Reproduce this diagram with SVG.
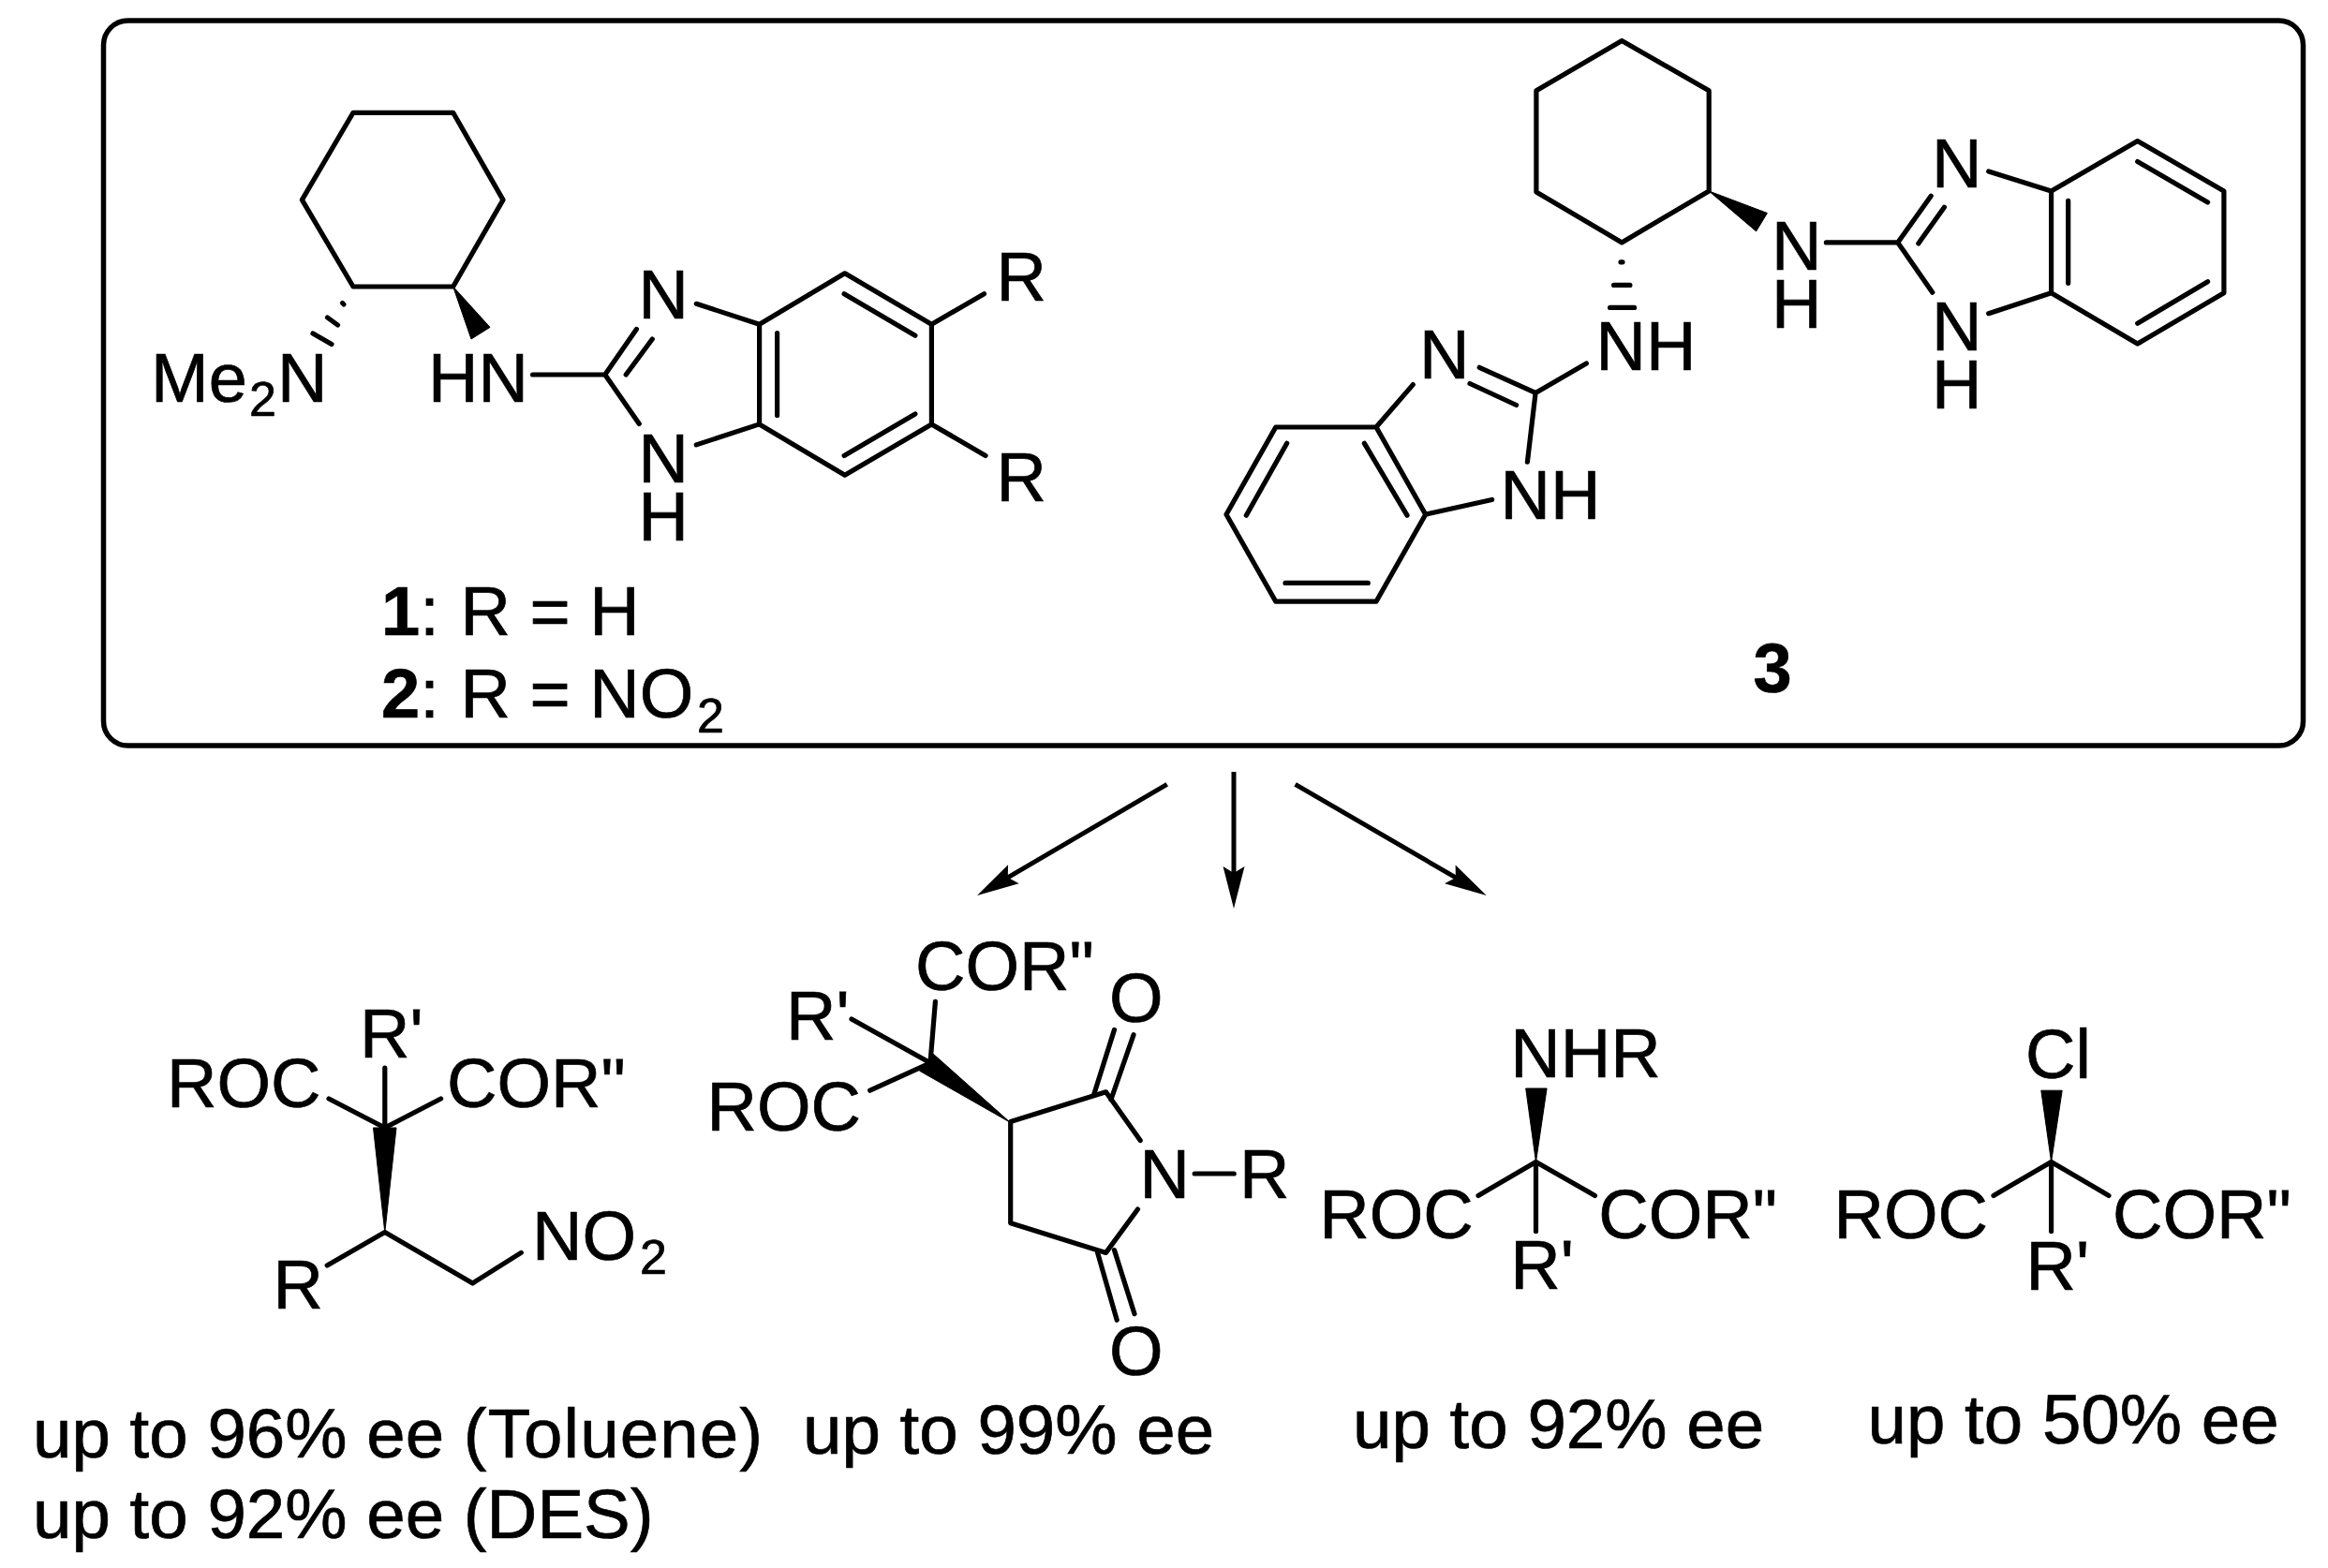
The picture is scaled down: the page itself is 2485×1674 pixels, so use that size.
<svg xmlns="http://www.w3.org/2000/svg" width="2485" height="1674" viewBox="0 0 2485 1674">
<style>
text{font-family:"Liberation Sans",Arial,sans-serif;font-size:74px;fill:#000;stroke:#000;stroke-width:.7}
.s{font-size:52px}
.b{font-weight:bold}
.e{font-size:74.5px}
path.l{fill:none;stroke:#000;stroke-width:5.2;stroke-linecap:round;stroke-linejoin:round}
.w{fill:#000;stroke:#000;stroke-width:1;stroke-linejoin:round}
.a{fill:none;stroke:#000;stroke-width:5;marker-end:url(#arrow)}
</style>
<defs>
<marker id="arrow" markerUnits="userSpaceOnUse" viewBox="-20 -15 55 30" refX="0" refY="0" markerWidth="55" markerHeight="30" orient="auto">
<path d="M30,0L-15,-11.5L-8,0L-15,11.5Z" fill="#000"/>
</marker>
</defs>
<rect width="2485" height="1674" fill="#fff"/>
<g id="frame"><rect x="110.5" y="22" width="2348" height="774" rx="26" ry="26" fill="none" stroke="#000" stroke-width="5.5"/></g>

<g id="catalyst-1-2">
<path class="l" d="M377,120.3H483.7L537,213.4L483.7,306H377L322.4,213.4Z"/>
<path class="w" d="M483.7,306L523,349.4L503,362Z"/>
<path class="l" d="M365.5,323.5L367,325M349.5,339L360.5,347M334,356L354,367.5"/>
<path class="l" d="M568.6,400H645.8L679.4,351.5M668.2,400L696.3,362M645.8,400L682.3,452.4"/>
<path class="l" d="M743.3,324.3L810.6,346.2L901.8,291.8L994.4,346.2V452.9L901.8,507.3L810.6,452.9V346.2M810.6,452.9L743.3,474.9M829.6,355.6V443.5M901.1,313.8L976.9,358.3M901.1,486.4L976.9,441.9M994.4,346.2L1050.5,313.8M994.4,452.9L1052,486.4"/>
<text x="161" y="429">Me</text><text class="s" x="266" y="444">2</text><text x="296" y="429">N</text>
<text x="457" y="429">HN</text>
<text x="681.500" y="340">N</text><text x="681.500" y="515">N<tspan x="681.500" dy="62">H</tspan></text>
<text x="1063.500" y="320.600">R</text><text x="1063.500" y="534.500">R</text>
<text x="407" y="678"><tspan class="b">1</tspan>:</text><text x="491.500" y="678">R = H</text>
<text x="407" y="766"><tspan class="b">2</tspan>:</text><text x="491.500" y="766">R = NO</text><text class="s" x="744" y="782">2</text>
</g>

<g id="catalyst-3">
<path class="l" d="M1731.2,43.400L1824.200,96.800V204L1731.200,258.900L1639.900,205V96.800Z"/>
<path class="w" d="M1824.200,204L1886.400,227.500L1874.600,246.900Z"/>
<path class="l" d="M1730,279.800H1732M1722.600,304.400H1739.900M1718.600,328.400H1744.600"/>
<path class="l" d="M1949.400,258.900H2025.800L2061.200,209.200M2047.800,259.900L2075.400,221.200M2025.800,258.900L2062.800,312.200"/>
<path class="l" d="M2122.700,183L2189.600,204L2281.700,150.600L2373.900,204V312.800L2281.700,367.100L2189.600,312.800V204M2189.600,312.800L2122.700,334.700M2207.700,214.400V302.300M2281.700,172.600L2356.600,216M2281.700,345.200L2356.600,300.700"/>
<path class="l" d="M1693.400,388L1639.100,419.400L1579.200,392.300M1569,409.500L1618.600,432.500M1639.100,419.400L1630.400,493.200"/>
<path class="l" d="M1508.300,410.600L1469,456H1361.800L1309,549.200L1361.800,642.200H1469L1521.700,549.200L1469,456M1521.700,549.200L1592.600,533.500M1456.400,473.300L1502,550.200M1373.700,473.300L1330.300,550.200M1372,622.400H1460.300"/>
<text x="1703.500" y="395">NH</text>
<text x="1891" y="287.600">N<tspan x="1891" dy="62">H</tspan></text>
<text x="2062" y="200.300">N</text><text x="2062" y="374">N<tspan x="2062" dy="62">H</tspan></text>
<text x="1515" y="404.300">N</text><text x="1601.500" y="554.400">NH</text>
<text class="b" x="1871.500" y="738.500">3</text>
</g>

<g id="connectors">
<path class="a" d="M1245.700,837.400L1068.900,940.800"/>
<path class="a" d="M1317,824V940"/>
<path class="a" d="M1382.600,837.400L1560.800,940.900"/>
</g>

<g id="product-nitro">
<path class="l" d="M351,1173L410.800,1204L470.600,1173M410.800,1140.200V1204"/>
<path class="w" d="M398.500,1204H423L410.800,1315.600Z"/>
<path class="l" d="M349.200,1351L410.800,1315.600L504.500,1370L556.300,1337.400"/>
<text x="384" y="1128.800">R'</text>
<text x="178" y="1182">ROC</text><text x="477" y="1182">COR"</text>
<text x="291.500" y="1397">R</text>
<text x="568" y="1344.500">NO</text><text class="s" x="683" y="1360">2</text>
<text class="e" x="35" y="1556">up to 96% ee <tspan letter-spacing="1.1">(Toluene)</tspan></text>
<text class="e" x="35" y="1642">up to 92% ee (DES)</text>
</g>

<g id="product-succinimide">
<path class="l" d="M909,1088L993,1134.800M998.400,1069.400L993,1134.800M928.700,1164.200L993,1134.800"/>
<path class="w" d="M996,1125L981.700,1143.300L1078.300,1198.300Z"/>
<path class="l" d="M1217.200,1217.600L1180.500,1165.800L1078.700,1197.400V1305.800L1180.500,1337.400L1214.500,1291"/>
<path class="l" d="M1189.500,1099.400L1168,1167.500M1210,1104.800L1185.900,1174M1171.600,1337.400L1192.200,1409.300M1189.500,1334.600L1211,1402.700M1275.200,1253H1317.200"/>
<text x="977" y="1057">COR"</text><text x="839" y="1109.700">R'</text><text x="754.500" y="1206.700">ROC</text>
<text x="1184" y="1090.700">O</text><text x="1216.500" y="1279">N</text><text x="1323" y="1279">R</text><text x="1184" y="1468">O</text>
<text class="e" x="857" y="1552">up to 99% ee</text>
</g>

<g id="product-amine">
<path class="l" d="M1578,1276.400L1639.500,1240.400L1702.500,1276.400M1639.500,1240.400V1314.500"/>
<path class="w" d="M1628.700,1162H1651.100L1639.500,1240.400Z"/>
<text x="1612.300" y="1149.500">NHR</text>
<text x="1408.200" y="1322">ROC</text><text x="1706.200" y="1322">COR"</text>
<text x="1612.300" y="1375.500">R'</text>
<text class="e" x="1444" y="1545.500">up to 92% ee</text>
</g>

<g id="product-chloride">
<path class="l" d="M2128,1276.400L2189.600,1240.400L2251,1276.400M2189.600,1240.400V1314.500"/>
<path class="w" d="M2178.800,1164.200H2201.200L2189.600,1240.400Z"/>
<text x="2162" y="1150.600">Cl</text>
<text x="1957.500" y="1322">ROC</text><text x="2255" y="1322">COR"</text>
<text x="2162.500" y="1376.600">R'</text>
<text class="e" x="1993.500" y="1540.500">up to 50% ee</text>
</g>
</svg>
